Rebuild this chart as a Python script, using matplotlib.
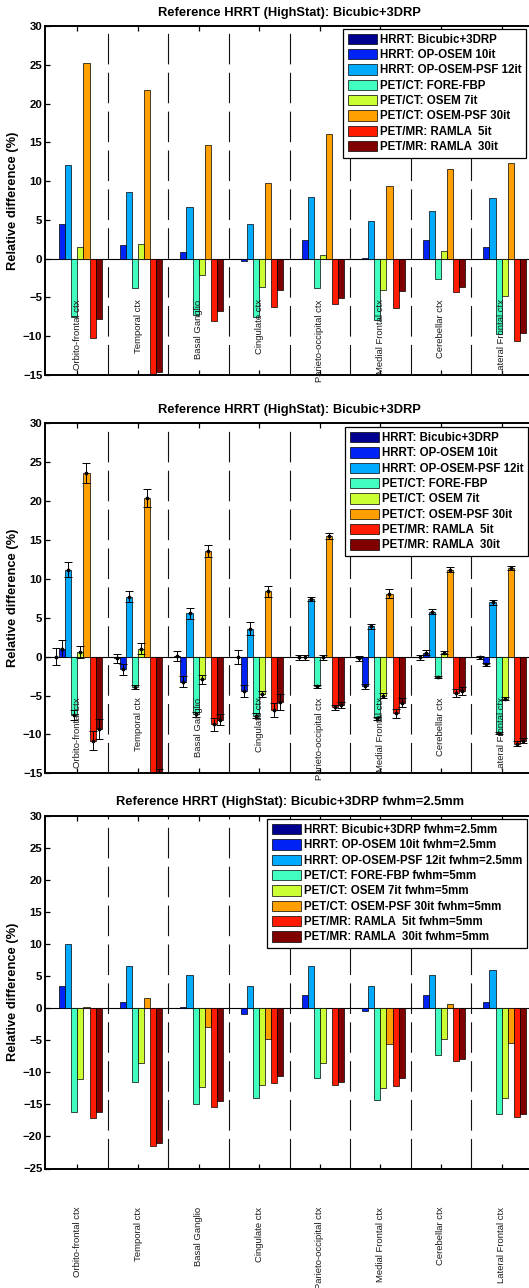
import matplotlib
matplotlib.use('Agg')
import matplotlib.pyplot as plt
from matplotlib.font_manager import FontProperties
import numpy as np

plt.rcParams['font.family'] = ['Liberation Sans', 'DejaVu Sans']
plt.rcParams['lines.scale_dashes'] = False

W, H, DPI = 529, 1288, 100

regions = ['Orbito-frontal ctx', 'Temporal ctx', 'Basal Ganglio', 'Cingulate ctx',
           'Parieto-occipital ctx', 'Medial Frontal ctx', 'Cerebellar ctx', 'Lateral Frontal ctx']

labels_12 = ['HRRT: Bicubic+3DRP', 'HRRT: OP-OSEM 10it', 'HRRT: OP-OSEM-PSF 12it',
             'PET/CT: FORE-FBP', 'PET/CT: OSEM 7it', 'PET/CT: OSEM-PSF 30it',
             'PET/MR: RAMLA  5it', 'PET/MR: RAMLA  30it']
labels_3 = ['HRRT: Bicubic+3DRP fwhm=2.5mm', 'HRRT: OP-OSEM 10it fwhm=2.5mm',
            'HRRT: OP-OSEM-PSF 12it fwhm=2.5mm', 'PET/CT: FORE-FBP fwhm=5mm',
            'PET/CT: OSEM 7it fwhm=5mm', 'PET/CT: OSEM-PSF 30it fwhm=5mm',
            'PET/MR: RAMLA  5it fwhm=5mm', 'PET/MR: RAMLA  30it fwhm=5mm']

colors = ['#000090', '#0022F5', '#00AAFF', '#40FFC0', '#CCFF33', '#FFA000', '#FF1A00', '#800000']

titles = ['Reference HRRT (HighStat): Bicubic+3DRP',
          'Reference HRRT (HighStat): Bicubic+3DRP',
          'Reference HRRT (HighStat): Bicubic+3DRP fwhm=2.5mm']

# ---- Panel 1 ----
p1_bicubic = [0, 0, 0, 0, 0, 0, 0, 0]
p1_osem = [4.5, 1.8, 0.8, -0.35, 2.4, 0.13, 2.4, 1.5]
p1_osem_psf = [12.1, 8.6, 6.6, 4.5, 8.0, 4.9, 6.2, 7.8]
p1_fbp = [-7.5, -3.8, -7.3, -7.5, -3.8, -7.9, -2.6, -9.7]
p1_osem7 = [1.5, 1.9, -2.1, -3.7, 0.5, -4.1, 1.0, -4.8]
p1_osempsf30 = [25.2, 21.8, 14.7, 9.7, 16.1, 9.4, 11.6, 12.3]
p1_ramla5 = [-10.2, -16.0, -8.1, -6.2, -5.8, -6.4, -4.3, -10.6]
p1_ramla30 = [-7.8, -14.6, -6.8, -4.1, -5.1, -4.2, -3.7, -9.6]

# ---- Panel 2 (mean and error) ----
p2_bicubic = [0.0, -0.2, 0.1, -0.1, -0.1, -0.2, -0.1, -0.1]
p2_bicubic_err = [1.1, 0.6, 0.6, 0.9, 0.3, 0.3, 0.3, 0.2]
p2_osem = [1.0, -1.6, -3.2, -4.4, -0.1, -3.8, 0.5, -1.0]
p2_osem_err = [1.1, 0.7, 0.7, 0.8, 0.3, 0.3, 0.3, 0.2]
p2_osem_psf = [11.2, 7.7, 5.6, 3.6, 7.4, 3.9, 5.8, 7.0]
p2_osem_psf_err = [1.0, 0.7, 0.7, 0.8, 0.3, 0.3, 0.3, 0.3]
p2_fbp = [-7.5, -3.9, -7.4, -7.6, -3.8, -7.9, -2.6, -9.8]
p2_fbp_err = [0.6, 0.3, 0.3, 0.3, 0.2, 0.2, 0.1, 0.1]
p2_osem7 = [0.6, 1.0, -2.9, -4.8, -0.1, -5.0, 0.5, -5.4]
p2_osem7_err = [0.8, 0.7, 0.6, 0.4, 0.3, 0.3, 0.2, 0.2]
p2_osempsf30 = [23.6, 20.4, 13.6, 8.4, 15.5, 8.1, 11.2, 11.4]
p2_osempsf30_err = [1.3, 1.1, 0.8, 0.7, 0.4, 0.6, 0.3, 0.3]
p2_ramla5 = [-10.8, -17.0, -8.7, -6.8, -6.5, -7.3, -4.7, -11.2]
p2_ramla5_err = [1.2, 1.0, 0.8, 0.9, 0.3, 0.6, 0.5, 0.3]
p2_ramla30 = [-9.3, -15.4, -8.1, -5.8, -6.2, -5.9, -4.4, -10.8]
p2_ramla30_err = [1.3, 1.0, 0.7, 1.0, 0.4, 0.6, 0.5, 0.3]

# ---- Panel 3 ----
p3_bicubic = [0, 0, 0, 0, 0, 0, 0, 0]
p3_osem = [3.5, 1.0, 0.2, -0.9, 2.0, -0.5, 2.0, 0.9]
p3_osem_psf = [10.0, 6.5, 5.2, 3.4, 6.5, 3.5, 5.1, 5.9]
p3_fbp = [-16.2, -11.6, -15.0, -14.0, -10.9, -14.4, -7.3, -16.5]
p3_osem7 = [-11.1, -8.5, -12.3, -12.0, -8.5, -12.4, -4.9, -14.0]
p3_osempsf30 = [0.15, 1.6, -2.9, -4.8, 0.0, -5.6, 0.6, -5.4]
p3_ramla5 = [-17.2, -21.5, -15.4, -11.7, -12.0, -12.1, -8.3, -16.9]
p3_ramla30 = [-16.2, -21.0, -14.5, -10.6, -11.5, -10.9, -8.0, -16.5]

p1_series = [p1_bicubic, p1_osem, p1_osem_psf, p1_fbp, p1_osem7, p1_osempsf30, p1_ramla5, p1_ramla30]
p2_series = [p2_bicubic, p2_osem, p2_osem_psf, p2_fbp, p2_osem7, p2_osempsf30, p2_ramla5, p2_ramla30]
p2_errors = [p2_bicubic_err, p2_osem_err, p2_osem_psf_err, p2_fbp_err, p2_osem7_err,
             p2_osempsf30_err, p2_ramla5_err, p2_ramla30_err]
p3_series = [p3_bicubic, p3_osem, p3_osem_psf, p3_fbp, p3_osem7, p3_osempsf30, p3_ramla5, p3_ramla30]

fig = plt.figure(figsize=(W / DPI, H / DPI), dpi=DPI)

def px_ax(top, bottom):
    left = 44.5
    right = 534.5
    return fig.add_axes([left / W, 1 - bottom / H, (right - left) / W, (bottom - top) / H])

ax1 = px_ax(26, 375)
ax2 = px_ax(423.3, 773.3)
ax3 = px_ax(815.5, 1168.5)

legend_font = FontProperties(family='Liberation Sans', weight='bold', size=8.3)

def draw_panel(ax, series, labels, ylim, title, legend_xy, errors=None, inner_labels=True):
    n = len(regions)
    xc = np.arange(1, n + 1)
    w = 0.1
    ax.axhline(0, color='black', lw=0.8, zorder=1)
    handles = []
    for k, vals in enumerate(series):
        xk = xc + (k - 3.5) * w
        b = ax.bar(xk, vals, width=w, color=colors[k], edgecolor='black', linewidth=0.5,
                   zorder=2, label=labels[k])
        handles.append(b)
        if errors is not None:
            ax.errorbar(xk, vals, yerr=errors[k], fmt='.', color='black', ms=3.5,
                        elinewidth=0.7, capsize=2.6, capthick=0.7, zorder=3)
    for xb in np.arange(1.5, n, 1.0):
        ln = ax.axvline(xb, color='#111111', lw=0.8, zorder=1.5)
        ln.set_dashes((22, 6))
    ax.set_xlim(0.457, 8.543)
    ax.set_ylim(*ylim)
    ax.set_yticks(np.arange(ylim[0], ylim[1] + 1, 5))
    ax.set_xticks(xc)
    ax.set_xticklabels([])
    ax.tick_params(axis='both', direction='in', length=3.5, width=0.9,
                   top=True, right=True, labelsize=8.2, pad=1.5)
    for lab in ax.get_yticklabels():
        lab.set_fontweight('bold')
    for sp in ax.spines.values():
        sp.set_linewidth(1.4)
    ax.text(0.5, 1 + 13 / ax.bbox.height, title, transform=ax.transAxes,
            ha='center', va='center', fontsize=9.3, fontweight='bold')
    for i, r in enumerate(regions):
        if inner_labels:
            ax.text(xc[i], -5.25, r, rotation=90, ha='center', va='top', fontsize=6.8,
                    color='#1a1a1a', zorder=4)
        else:
            ax.text(xc[i], -38.2 / ax.bbox.height, r, rotation=90, ha='center', va='top',
                    fontsize=6.8, color='#1a1a1a', transform=ax.get_xaxis_transform())
    leg = ax.legend(handles, labels, loc='upper left',
                    bbox_to_anchor=(legend_xy[0] / W, 1 - legend_xy[1] / H),
                    bbox_transform=fig.transFigure, prop=legend_font, frameon=True,
                    fancybox=False, edgecolor='black', framealpha=1, borderpad=0.4,
                    labelspacing=0.28, handlelength=2.55, handleheight=1.0,
                    handletextpad=0.25, borderaxespad=0)
    leg.get_frame().set_linewidth(0.9)
    leg.set_zorder(10)
    bb = ax.get_position()
    fig.text(13.5 / W, (bb.y0 + bb.y1) / 2, 'Relative difference (%)', rotation=90,
             ha='center', va='center', fontsize=9.3, fontweight='bold')

draw_panel(ax1, p1_series, labels_12, (-15, 30), titles[0], (343.3, 29))
draw_panel(ax2, p2_series, labels_12, (-15, 30), titles[1], (345, 427.3), errors=p2_errors)
draw_panel(ax3, p3_series, labels_3, (-25, 30), titles[2], (267.3, 819.3), inner_labels=False)

fig.savefig('out.png', dpi=DPI)
